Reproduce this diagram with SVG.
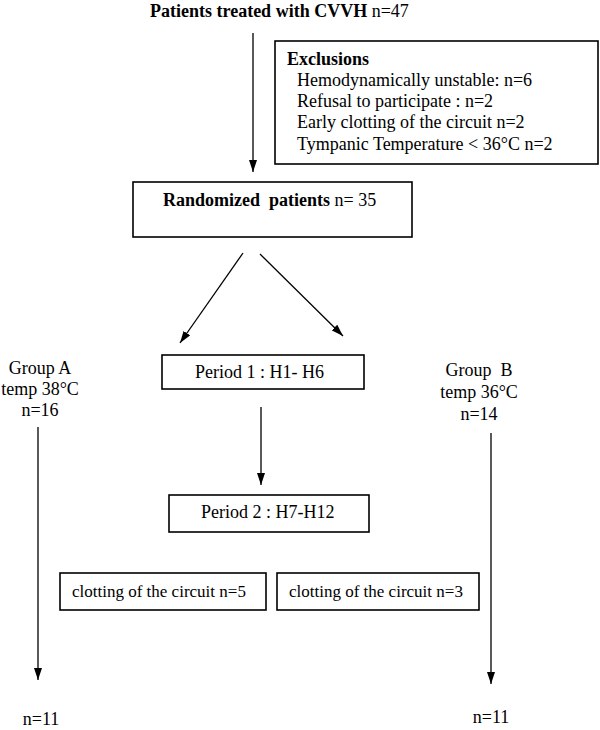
<svg xmlns="http://www.w3.org/2000/svg" width="600" height="730" viewBox="0 0 600 730">
<defs>
<style>
text{font-family:"Liberation Serif","Times New Roman",serif;font-size:18px;fill:#000}
.b{font-weight:bold}
.s{font-size:17px}
.box{fill:#fff;stroke:#000;stroke-width:1.6}
.ln{stroke:#000;stroke-width:1.3;fill:none}
</style>
<marker id="ah" viewBox="0 0 12 8" refX="12" refY="4" markerWidth="12" markerHeight="8" markerUnits="userSpaceOnUse" orient="auto">
<path d="M0,0 L12,4 L0,8 z" fill="#000"/>
</marker>
</defs>
<rect width="600" height="730" fill="#fff"/>
<g id="connectors">
<line class="ln" x1="253" y1="33" x2="253" y2="172" marker-end="url(#ah)"/>
<line class="ln" x1="243" y1="253" x2="180" y2="343" marker-end="url(#ah)"/>
<line class="ln" x1="260" y1="254" x2="343" y2="336" marker-end="url(#ah)"/>
<line class="ln" x1="261" y1="407" x2="261" y2="485" marker-end="url(#ah)"/>
<line class="ln" x1="38" y1="427" x2="38" y2="680" marker-end="url(#ah)"/>
<line class="ln" x1="491" y1="433" x2="491" y2="684" marker-end="url(#ah)"/>
</g>
<g id="title">
<text x="150" y="17"><tspan class="b">Patients treated with CVVH</tspan> n=47</text>
</g>
<g id="exclusions">
<rect class="box" x="275" y="41" width="323" height="123"/>
<text x="287" y="65" class="b">Exclusions</text>
<text x="297" y="86">Hemodynamically unstable: n=6</text>
<text x="297" y="107">Refusal to participate : n=2</text>
<text x="297" y="128">Early clotting of the circuit n=2</text>
<text x="297" y="150">Tympanic Temperature &lt; 36°C n=2</text>
</g>
<g id="randomized">
<rect class="box" x="133" y="182" width="279" height="55"/>
<text x="163" y="206" xml:space="preserve"><tspan class="b">Randomized  patients</tspan> n= 35</text>
</g>
<g id="period1">
<rect class="box" x="162" y="355" width="202" height="34"/>
<text x="195" y="378">Period 1 : H1- H6</text>
</g>
<g id="period2">
<rect class="box" x="169" y="495" width="200" height="37"/>
<text x="201" y="518">Period 2 : H7-H12</text>
</g>
<g id="clotA">
<rect class="box" x="60" y="573" width="206" height="37"/>
<text x="72" y="597" class="s">clotting of the circuit n=5</text>
</g>
<g id="clotB">
<rect class="box" x="277" y="573" width="202" height="37"/>
<text x="289" y="597" class="s">clotting of the circuit n=3</text>
</g>
<g id="groupA" text-anchor="middle">
<text x="40" y="374">Group A</text>
<text x="40" y="395">temp 38°C</text>
<text x="40" y="416">n=16</text>
</g>
<g id="groupB" text-anchor="middle">
<text x="479" y="376" xml:space="preserve">Group  B</text>
<text x="479" y="398">temp 36°C</text>
<text x="479" y="420">n=14</text>
</g>
<g id="endA"><text x="41" y="725" text-anchor="middle">n=11</text></g>
<g id="endB"><text x="491" y="723" text-anchor="middle">n=11</text></g>
</svg>
